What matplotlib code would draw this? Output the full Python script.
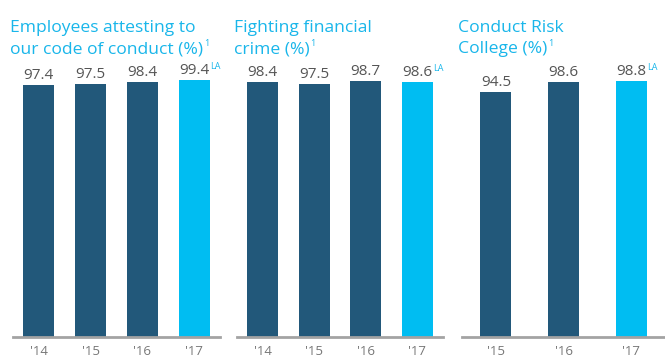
import matplotlib.pyplot as plt

plt.rcParams.update(
    {
        "font.family": ["Open Sans", "DejaVu Sans"],
        "figure.dpi": 100,
        "savefig.dpi": 100,
    }
)

# conduct metrics, one panel each
titles = [
    ["Employees attesting to", "our code of conduct (%)"],
    ["Fighting financial", "crime (%)"],
    ["Conduct Risk", "College (%)"],
]
years = [
    ["'14", "'15", "'16", "'17"],
    ["'14", "'15", "'16", "'17"],
    ["'15", "'16", "'17"],
]
values = [
    [97.4, 97.5, 98.4, 99.4],
    [98.4, 97.5, 98.7, 98.6],
    [94.5, 98.6, 98.8],
]

DARK = "#22587a"
LIGHT = "#00bdf2"
TITLE = "#19b6ea"
W, H = 665, 358

fig = plt.figure(figsize=(W / 100, H / 100))
renderer = fig.canvas.get_renderer()

# panel extents in pixels: (left, right)
spans = [(13, 220), (237, 443), (462, 665)]
title_x = [10, 234, 458]
base_px, top_px = 337, 78

for i, (yrs, vals) in enumerate(zip(years, values)):
    left, right = spans[i]
    ax = fig.add_axes(
        [left / W, (H - base_px) / H, (right - left) / W, (base_px - top_px) / H]
    )
    n = len(vals)
    slot = (right - left) / n
    colors = [DARK] * (n - 1) + [LIGHT]
    xs = list(range(n))
    ax.bar(xs, vals, width=31 / slot, color=colors)
    ax.set_xlim(-0.5, n - 0.5)
    ax.set_ylim(0, 100)
    for x, v in zip(xs, vals):
        ax.annotate(
            f"{v:.1f}", (x, v), xytext=(0, 2), textcoords="offset pixels",
            ha="center", va="bottom", fontsize=11, color="#555555",
        )
    # limited assurance marker on the latest year
    ax.annotate(
        "LA", (xs[-1], vals[-1]), xytext=(16, 18), textcoords="offset pixels",
        ha="left", va="top", fontsize=6.5, color=TITLE,
    )
    ax.set_xticks(xs)
    ax.set_xticklabels(yrs, fontsize=9.5, color="#777777")
    ax.tick_params(axis="x", length=0, pad=6)
    ax.set_yticks([])
    for s in ["top", "left", "right"]:
        ax.spines[s].set_visible(False)
    ax.spines["bottom"].set_color("#a3a3a3")
    ax.spines["bottom"].set_linewidth(2)
    ax.patch.set_alpha(0)

    for j, line in enumerate(titles[i]):
        t = fig.text(
            title_x[i] / W, 1 - (32 + 21 * j) / H, line,
            fontsize=12.6, color=TITLE, ha="left", va="baseline",
        )
    # footnote marker after the last title line
    x1 = t.get_window_extent(renderer).x1
    fig.text(
        (x1 + 1) / W, 1 - (32 + 21 * (len(titles[i]) - 1) - 7) / H, "1",
        fontsize=6.5, color=TITLE, ha="left", va="baseline",
    )

fig.savefig("out.png")
